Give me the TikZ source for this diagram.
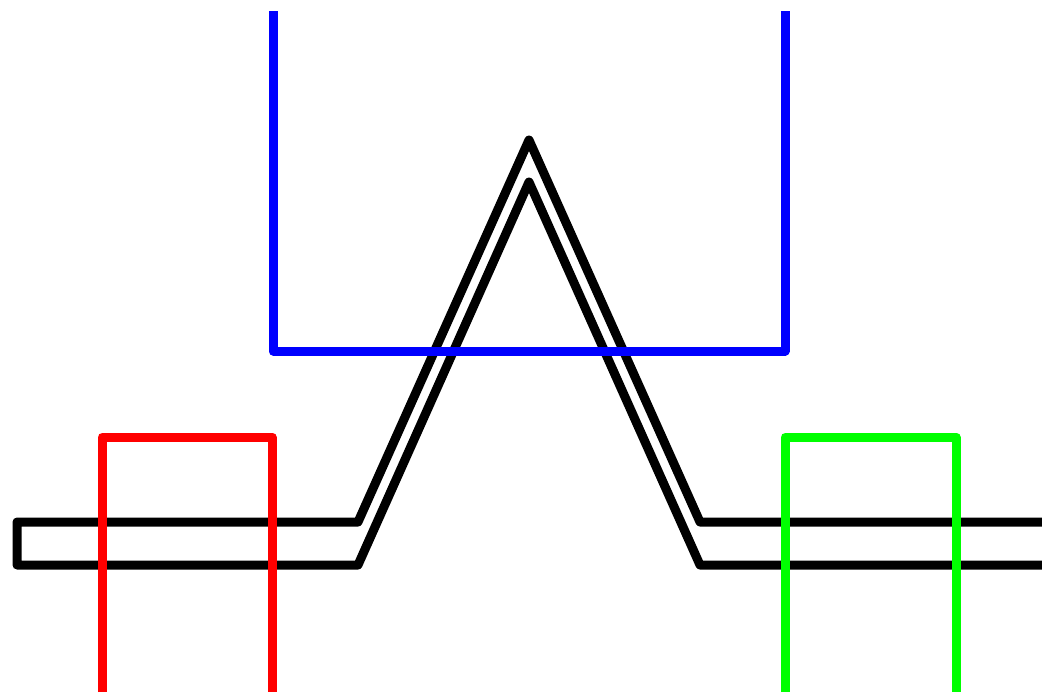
\documentclass[tikz,border=0pt]{standalone}
\usepackage{tikz}
\definecolor{lime}{RGB}{0,255,0}

\begin{document}
\begin{tikzpicture}[x=0.02cm, y=-0.02cm, line join=round,
    wire/.style={line width=9*0.02cm}]
  \useasboundingbox (0,0) rectangle (1042,694);
  % the folded black line
  \draw[wire, black] (1042,522) -- (700,522) -- (529,140) -- (358,522) -- (17,522)
    -- (17,565) -- (358,565) -- (529,182) -- (700,565) -- (1042,565);
  % the three open frames
  \draw[wire, blue] (273,11) -- (273,351) -- (785,351) -- (785,11);
  \draw[wire, red] (102,692) -- (102,437) -- (272,437) -- (272,692);
  \draw[wire, lime] (785,692) -- (785,437) -- (956,437) -- (956,692);
\end{tikzpicture}
\end{document}
